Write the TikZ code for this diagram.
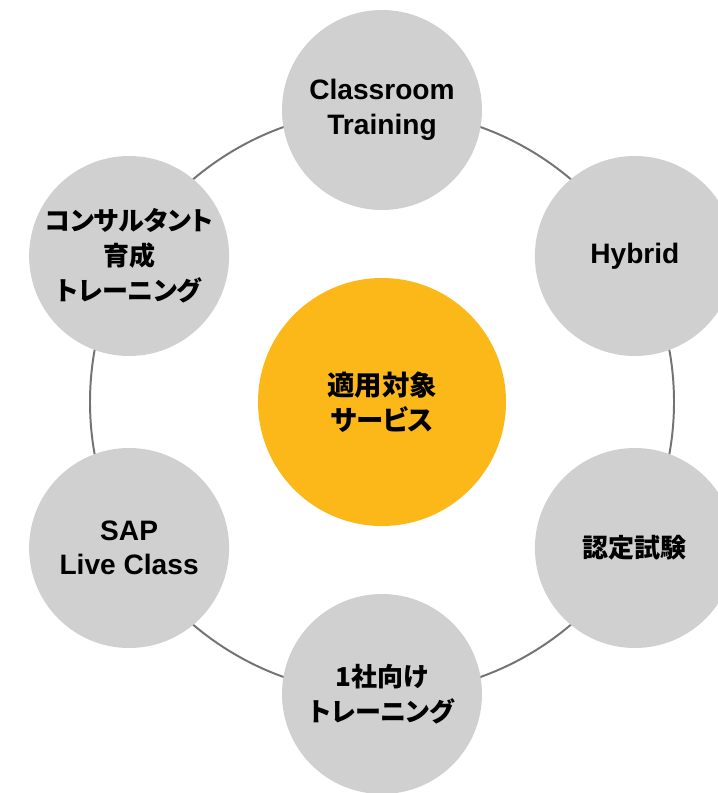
\documentclass[tikz,border=0pt]{standalone}
\usepackage{fontspec}
\usetikzlibrary{calc}
\setmainfont{Liberation Sans}
\newfontfamily\cjk[RawFeature=+palt]{Noto Sans CJK JP}
\definecolor{ringgray}{HTML}{737373}
\definecolor{topicgray}{HTML}{D0D0D0}
\definecolor{hubgold}{HTML}{FBB818}
\tikzset{
	topic/.style={circle, fill=topicgray, minimum size=5cm, inner sep=0pt, align=center,
		font=\bfseries\fontsize{20}{24.5}\selectfont},
	jtopic/.style={topic, font=\cjk\bfseries\fontsize{18.5}{25}\selectfont},
	hub/.style={circle, fill=hubgold, minimum size=6.2cm, inner sep=0pt, align=center,
		font=\cjk\bfseries\fontsize{19.5}{25}\selectfont},
	ring/.style={draw=ringgray, line width=1.4pt}
}
\begin{document}
\begin{tikzpicture}
	\useasboundingbox (0,0) rectangle (17.95,-19.825);
	\clip (0,0) rectangle (17.95,-19.825);
	\coordinate (c) at (9.55,-10.05);
	\draw[ring] (c) circle (7.3cm);

	\node (hub) [hub] at (c) {適用対象\\サービス};
	\node (cls) [topic] at ($(c)+(90:7.3)$) {Classroom\\Training};
	\node (hyb) [topic] at ($(c)+(30:7.3)$) {Hybrid};
	\node (cert) [jtopic] at ($(c)+(-30:7.3)$) {認定試験};
	\node (corp) [jtopic] at ($(c)+(-90:7.3)$) {1社向け\\トレーニング};
	\node (live) [topic] at ($(c)+(-150:7.3)$) {SAP\\Live Class};
	\node (cons) [jtopic] at ($(c)+(150:7.3)$) {コンサルタント\\育成\\トレーニング};
\end{tikzpicture}
\end{document}
